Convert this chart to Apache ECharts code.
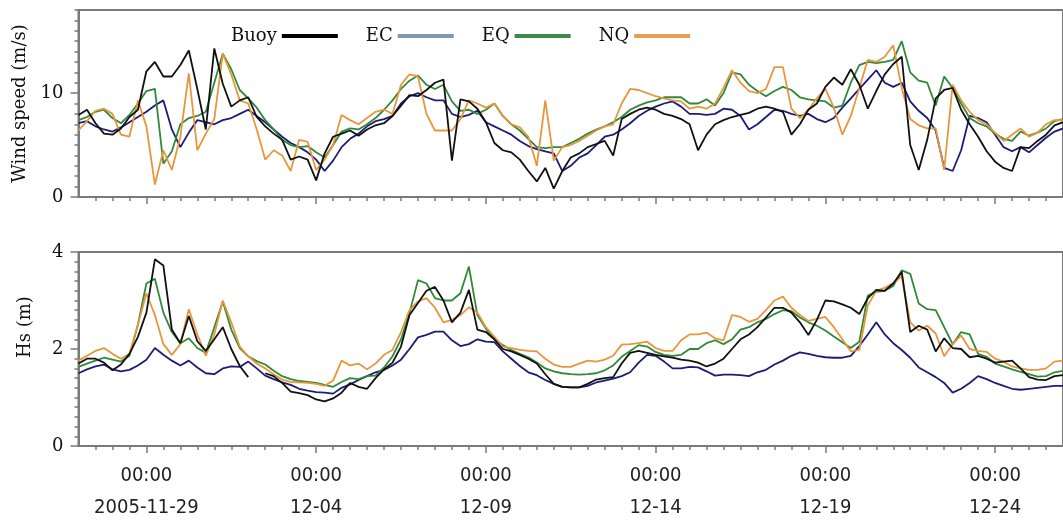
<!DOCTYPE html>
<html><head><meta charset="utf-8">
<script src="https://cdn.jsdelivr.net/npm/echarts@6/dist/echarts.min.js"></script>
<style>html,body{margin:0;padding:0;background:#fff}#c{width:1063px;height:524px}</style>
</head><body><div id="c"></div>
<script>
// ---- time base (6-hourly samples from 2005-11-27 00:00 UTC) ----
const startTime = Date.UTC(2005, 10, 27, 0, 0, 0);
const endTime = Date.UTC(2005, 11, 26, 0, 0, 0);
const stepHours = 6;
const majorTickDates = ['2005-11-29', '2005-12-04', '2005-12-09', '2005-12-14', '2005-12-19', '2005-12-24'];
const xTickLabels = ['2005-11-29', '12-04', '12-09', '12-14', '12-19', '12-24'];
const windTickLabels = [0, 10];
const hsTickLabels = [0, 2, 4];
const seriesNames = ['Buoy', 'EC', 'EQ', 'NQ'];

// ---- Wind speed (m/s) ----
const windBuoy = [7.9,8.4,7.1,6.1,6.0,6.6,7.7,8.4,12.1,13.0, 11.6,11.6,12.7,14.1,10.4,6.5,14.3,10.9,8.7,9.3, 9.6,7.7,6.8,6.1,5.5,3.6,3.9,3.6,1.6,4.2, 5.8,6.1,6.4,
 5.9,6.5,6.9,7.1,7.8,8.8,9.8,9.7,10.3,11.0, 11.3,3.5,9.4,9.2,8.5,7.2,5.2,4.5,4.3,3.6, 2.5,1.5,2.8,0.8,2.5,3.8,4.2,4.8,5.1,5.4, 4.0,7.5,8.0,8.4,8.6,8.4,8.0,7.8,7.5,7.0,
 4.5,6.0,7.0,7.4,7.7,7.9,8.1,8.5,8.7,8.5, 8.2,6.0,7.0,8.4,9.0,10.6,11.5,10.8,12.3,10.8, 8.5,10.2,11.8,12.8,13.5,5.0,2.6,5.5,9.5,10.3, 10.5,8.4,7.0,5.8,4.4,3.4,2.8,2.5,4.8,4.7, 5.4,6.0,6.9,7.2];
const windEC = [7.1,7.3,6.8,6.5,6.3,6.7,7.2,7.7,8.2,8.8, 9.3,6.5,4.8,6.2,7.4,7.2,7.0,7.4,7.6,8.0, 8.4,7.8,7.2,6.5,5.8,5.2,4.8,4.3,3.6,2.5, 3.5,4.8,5.6,
 6.1,6.8,7.3,7.5,7.8,9.0,9.7,10.0,9.6,9.3, 9.3,8.0,7.7,7.9,8.3,7.2,6.8,6.4,6.0,5.4, 4.9,4.6,4.4,4.2,2.5,3.0,3.8,4.2,5.0,5.8, 6.0,6.5,7.1,7.8,8.3,8.7,9.0,9.2,8.7,8.0,
 8.0,7.9,8.0,8.5,8.4,7.8,6.5,7.0,7.7,8.4, 8.3,8.0,7.8,8.0,7.5,7.2,7.6,8.6,9.5,10.4, 11.3,12.2,11.0,10.6,11.0,9.2,8.3,7.6,6.4,2.8, 2.5,4.5,7.8,7.6,7.2,6.0,4.8,4.4,4.8,4.3, 5.0,5.7,6.3,6.6];
const windEQ = [7.4,7.7,8.2,8.4,7.6,7.1,7.9,9.0,10.2,10.4, 3.2,4.4,7.0,7.6,7.8,8.2,11.0,13.8,12.3,10.3, 9.5,8.6,7.4,6.5,5.5,5.0,4.8,4.9,4.3,3.8, 5.0,6.3,6.6,
 6.5,7.0,7.6,8.4,9.3,10.4,11.2,11.7,10.8,10.4, 10.8,9.2,8.3,8.4,8.0,8.4,9.0,7.8,7.0,6.4, 5.6,4.8,4.7,4.8,4.8,5.2,5.6,6.1,6.5,6.8, 7.2,7.7,8.4,8.8,9.1,9.3,9.6,9.6,9.6,9.0,
 9.0,9.4,8.8,10.0,12.0,11.8,10.8,10.2,9.7,10.2, 10.6,10.3,9.6,9.4,9.3,9.2,8.6,8.8,11.0,12.7, 13.0,12.9,13.0,13.2,15.0,12.0,11.2,11.0,8.8,11.6, 10.5,9.0,7.6,7.1,6.8,6.1,5.6,5.4,6.3,5.9, 6.2,6.6,7.3,7.5];
const windNQ = [6.4,7.3,8.3,8.5,8.0,6.0,5.8,9.3,6.8,1.2, 4.5,2.6,5.8,11.9,4.5,6.1,7.5,13.8,11.8,9.3, 9.0,6.5,3.6,4.5,4.0,2.5,5.5,5.3,2.6,3.6, 5.0,7.9,7.4,
 7.0,7.6,8.2,8.4,8.0,10.8,11.8,11.6,8.0,6.4, 6.4,6.4,7.5,9.3,9.0,8.6,9.0,7.8,7.0,6.7, 5.8,3.0,9.3,3.5,4.8,5.0,5.4,5.9,6.4,6.8, 7.0,9.0,10.4,10.3,10.0,9.7,9.5,9.3,9.2,8.5,
 8.7,8.5,9.0,10.5,12.2,11.0,10.2,10.0,10.4,12.5, 12.5,8.5,7.6,8.4,9.5,10.4,8.6,6.0,7.8,10.5, 13.2,13.0,13.5,14.6,10.5,7.5,6.9,6.6,6.6,2.6, 10.8,9.3,8.2,7.4,7.0,6.2,5.4,6.0,6.6,5.8, 6.2,7.0,7.4,7.4];

// ---- Hs (m) ----
const hsBuoy = [1.70,1.80,1.80,1.72,1.56,1.68,1.90,2.25,2.75,3.85, 3.72,2.40,2.12,2.68,2.16,1.96,2.20,2.45,2.00,1.65, 1.42,null,1.50,1.44,1.30,1.12,1.09,1.05,0.96,0.92, 0.98,1.10,1.30,
 1.22,1.18,1.40,1.58,1.72,2.05,2.70,2.95,3.20,3.28, 3.00,2.55,2.75,3.22,2.40,2.35,2.20,2.00,1.95,1.88, 1.80,1.70,1.48,1.28,1.22,1.21,1.21,1.28,1.37,1.40, 1.42,1.70,1.92,1.96,1.92,1.88,1.85,1.82,1.78,1.76,
 1.72,1.64,1.70,1.80,2.00,2.20,2.30,2.45,2.65,2.85, 2.85,2.75,2.55,2.29,2.60,3.00,2.98,2.92,2.85,2.72, 3.05,3.22,3.20,3.35,3.59,2.35,2.48,2.40,1.95,2.22, 2.02,2.00,1.83,1.86,1.80,1.72,1.74,1.76,1.60,1.42, 1.37,1.36,1.44,1.46];
const hsEC = [1.50,1.58,1.64,1.68,1.58,1.54,1.57,1.66,1.78,2.02, 1.88,1.76,1.66,1.76,1.62,1.50,1.48,1.60,1.64,1.63, 1.74,1.60,1.45,1.38,1.31,1.26,1.18,1.14,1.11,1.10, 1.08,1.20,1.27,
 1.36,1.44,1.52,1.57,1.66,1.78,2.00,2.24,2.29,2.36, 2.36,2.18,2.06,2.10,2.20,2.15,2.14,1.95,1.80,1.65, 1.52,1.46,1.36,1.28,1.22,1.21,1.21,1.24,1.31,1.35, 1.39,1.44,1.52,1.72,1.88,1.86,1.74,1.60,1.60,1.63,
 1.62,1.54,1.45,1.47,1.47,1.46,1.44,1.52,1.57,1.68, 1.76,1.86,1.93,1.90,1.86,1.83,1.82,1.82,1.86,2.06, 2.30,2.55,2.30,2.12,1.98,1.82,1.62,1.52,1.42,1.30, 1.10,1.18,1.30,1.44,1.38,1.30,1.24,1.18,1.16,1.18, 1.20,1.22,1.24,1.24];
const hsEQ = [1.63,1.70,1.76,1.82,1.78,1.74,1.86,2.50,3.35,3.45, 2.75,2.35,2.12,2.22,2.02,1.92,2.45,2.98,2.40,2.02, 1.85,1.75,1.68,1.55,1.44,1.38,1.34,1.32,1.30,1.26, 1.22,1.32,1.40,
 1.38,1.44,1.45,1.62,1.85,2.20,2.74,3.42,3.35,3.05, 3.00,3.00,3.15,3.70,2.70,2.42,2.20,2.08,1.98,1.90, 1.83,1.72,1.60,1.54,1.50,1.48,1.47,1.48,1.50,1.56, 1.66,1.84,1.96,2.08,2.05,1.94,1.88,1.86,1.88,2.00,
 2.00,2.12,2.18,2.10,2.20,2.40,2.45,2.55,2.62,2.72, 2.80,2.78,2.65,2.55,2.48,2.38,2.26,2.14,2.02,2.15, 3.10,3.18,3.20,3.30,3.62,3.55,2.94,2.82,2.80,2.45, 2.10,2.35,2.30,1.90,1.84,1.70,1.64,1.58,1.53,1.48, 1.43,1.44,1.52,1.55];
const hsNQ = [1.76,1.86,1.96,2.02,1.90,1.80,1.90,2.50,3.15,2.70, 2.10,1.88,2.10,2.82,2.30,1.86,2.30,3.00,2.55,2.05, 1.85,1.70,1.60,1.48,1.37,1.32,1.31,1.30,1.28,1.24, 1.35,1.76,1.66,
 1.70,1.58,1.70,1.88,1.98,2.35,2.80,2.98,3.05,2.85, 2.55,2.60,2.70,2.86,2.75,2.45,2.25,2.05,2.02,1.98, 1.96,1.95,1.80,1.68,1.63,1.63,1.70,1.76,1.74,1.78, 1.86,2.09,2.10,2.12,2.15,2.02,1.96,1.96,2.18,2.30,
 2.30,2.34,2.22,2.18,2.70,2.66,2.56,2.62,2.80,3.00, 3.08,2.85,2.70,2.58,2.62,2.66,2.45,2.20,1.95,1.98, 2.90,3.20,3.26,3.36,3.50,2.55,2.38,2.48,2.32,1.85, 2.10,2.28,2.00,1.96,1.94,1.80,1.74,1.64,1.60,1.57, 1.57,1.60,1.74,1.76];

// ---- styling ----
const lineColors = { Buoy: '#111111', EC: '#1c1c78', EQ: '#2f8a38', NQ: '#e8963c' };
const legendColors = { Buoy: '#000000', EC: '#7f96b4', EQ: '#3a8a4a', NQ: '#e8a050' };
const axisColor = '#7a7a7a';
const serif = 'DejaVu Serif';
const sans = 'DejaVu Sans Condensed, DejaVu Sans';

const HOUR = 3600 * 1000;
const majorTicks = majorTickDates.map(d => Date.parse(d + 'T00:00:00Z'));
const minorTicks = [];
for (let t = startTime + 12 * HOUR; t < endTime; t += 12 * HOUR) minorTicks.push(t);
const toPairs = arr => arr.map((v, i) => [startTime + i * stepHours * HOUR, v]);

const series = [];
const order = ['EC', 'EQ', 'NQ', 'Buoy'];
const windData = { Buoy: windBuoy, EC: windEC, EQ: windEQ, NQ: windNQ };
const hsData = { Buoy: hsBuoy, EC: hsEC, EQ: hsEQ, NQ: hsNQ };
[windData, hsData].forEach((set, gi) => {
  order.forEach(name => {
    series.push({
      name, type: 'line', xAxisIndex: gi * 2, yAxisIndex: gi * 2,
      data: toPairs(set[name]), showSymbol: false, symbol: 'none',
      connectNulls: false, animation: false,
      lineStyle: { color: lineColors[name], width: 1.8 },
      itemStyle: { color: lineColors[name] }
    });
  });
});

function xAxes(gridIndex, withLabels) {
  return [{
    type: 'value', gridIndex, position: 'bottom', min: startTime, max: endTime,
    axisLine: { show: true, lineStyle: { color: axisColor, width: 2 } },
    axisTick: { show: true, customValues: majorTicks, length: 7, lineStyle: { color: axisColor, width: 1.5 } },
    axisLabel: withLabels ? {
      show: true, customValues: majorTicks, margin: 14,
      fontFamily: sans, fontSize: 20, lineHeight: 32, color: '#222',
      formatter: v => '00:00\n' + xTickLabels[majorTicks.indexOf(v)]
    } : { show: false },
    splitLine: { show: false }
  }, {
    type: 'value', gridIndex, position: 'bottom', min: startTime, max: endTime,
    axisLine: { show: false },
    axisTick: { show: true, customValues: minorTicks, length: 4, lineStyle: { color: axisColor, width: 1.5 } },
    axisLabel: { show: false }, splitLine: { show: false }
  }];
}

function yAxes(gridIndex, max, step, labels, name, namePad) {
  const isLabel = v => labels.some(l => Math.abs(l - v) < 1e-6);
  return [{
    type: 'value', gridIndex, position: 'left', min: 0, max, interval: step,
    name, nameLocation: 'middle', nameGap: 44,
    nameTextStyle: { fontFamily: serif, fontSize: 18, color: '#111', padding: namePad },
    axisLine: { show: true, lineStyle: { color: axisColor, width: 2 } },
    axisTick: { show: true, length: 4, lineStyle: { color: axisColor, width: 1.5 } },
    axisLabel: { show: true, margin: 15, fontFamily: serif, fontSize: 18, color: '#111',
      formatter: v => isLabel(v) ? String(Math.round(v)) : '' },
    splitLine: { show: false }
  }, {
    type: 'value', gridIndex, position: 'left', min: 0, max,
    axisLine: { show: false },
    axisTick: { show: true, customValues: labels, length: 8, lineStyle: { color: axisColor, width: 1.5 } },
    axisLabel: { show: false }, splitLine: { show: false }
  }];
}

const chart = echarts.init(document.getElementById('c'), null, { renderer: 'canvas' });
chart.setOption({
  backgroundColor: '#ffffff',
  animation: false,
  grid: [
    { left: 78.5, top: 10, width: 990.5, height: 187, show: true, borderColor: axisColor, borderWidth: 2 },
    { left: 78.5, top: 252, width: 990.5, height: 205, show: true, borderColor: axisColor, borderWidth: 2 }
  ],
  legend: {
    left: 226, top: 22, align: 'right', icon: 'rect', itemWidth: 56, itemHeight: 4, itemGap: 28,
    textStyle: { fontFamily: serif, fontSize: 18, color: '#111' },
    data: seriesNames.map(n => ({ name: n, itemStyle: { color: legendColors[n] }, lineStyle: { color: legendColors[n] } }))
  },
  xAxis: [...xAxes(0, false), ...xAxes(1, true)],
  yAxis: [...yAxes(0, 18, 1, windTickLabels, 'Wind speed (m/s)', [0, 0, 0, 0]),
          ...yAxes(1, 4, 0.2, hsTickLabels, 'Hs (m)', [0, 0, 0, 44])],
  series
});
</script>
</body></html>
